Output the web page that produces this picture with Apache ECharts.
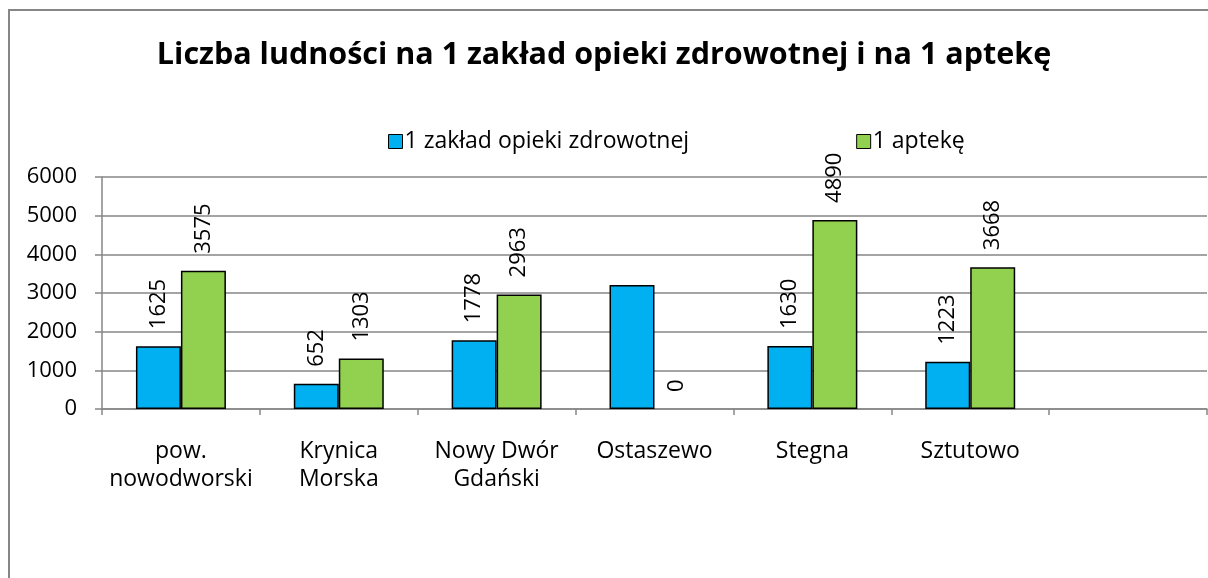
<!DOCTYPE html>
<html>
<head>
<meta charset="utf-8">
<script src="https://cdn.jsdelivr.net/npm/echarts@6/dist/echarts.min.js"></script>
<style>
  html, body { margin: 0; padding: 0; background: #fff; }
  #chart { width: 1208px; height: 578px; }
</style>
</head>
<body>
<div id="chart"></div>
<script>
const categories = ['pow.\nnowodworski', 'Krynica\nMorska', 'Nowy Dwór\nGdański', 'Ostaszewo', 'Stegna', 'Sztutowo', '']
const zakladValues = [1625, 652, 1778, 3207, 1630, 1223, null]
const aptekaValues = [3575, 1303, 2963, 0, 4890, 3668, null]
const hiddenZakladLabels = ['Ostaszewo']
const yTicks = { min: 0, max: 6000, step: 1000 }

const font = "'Open Sans', 'Noto Sans', sans-serif"

const labelStyle = {
  show: true,
  position: 'top',
  rotate: 90,
  align: 'left',
  verticalAlign: 'middle',
  distance: 17,
  color: '#000',
  fontSize: 22,
  fontFamily: font
}

const chart = echarts.init(document.getElementById('chart'), null, { renderer: 'canvas' })

chart.setOption({
  backgroundColor: '#fff',
  animation: false,
  title: {
    text: 'Liczba ludności na 1 zakład opieki zdrowotnej i na 1 aptekę',
    left: 'center',
    top: 35,
    textStyle: { fontSize: 30.5, fontWeight: 'bold', color: '#000', fontFamily: font }
  },
  legend: {
    top: 125,
    left: 383,
    itemGap: 167,
    itemWidth: 14,
    itemHeight: 14,
    textStyle: { fontSize: 23, color: '#000', fontFamily: font, padding: [0, 0, 0, -3] },
    data: [
      { name: '1 zakład opieki zdrowotnej', icon: 'rect', itemStyle: { borderColor: '#000', borderWidth: 1 } },
      { name: '1 aptekę', icon: 'rect', itemStyle: { borderColor: '#000', borderWidth: 1 } }
    ]
  },
  graphic: [{
    type: 'rect',
    shape: { x: 9, y: 10, width: 1400, height: 800 },
    style: { fill: 'none', stroke: '#868686', lineWidth: 2 },
    silent: true
  }],
  grid: { left: 102, right: 1, top: 177, bottom: 169 },
  xAxis: {
    type: 'category',
    data: categories,
    axisLine: { lineStyle: { color: '#868686', width: 1.5 } },
    axisTick: { show: true, length: 6, lineStyle: { color: '#868686', width: 1.5 } },
    axisLabel: { color: '#000', fontSize: 23, fontFamily: font, lineHeight: 28, margin: 28, interval: 0 }
  },
  yAxis: {
    type: 'value',
    min: yTicks.min,
    max: yTicks.max,
    interval: yTicks.step,
    axisLine: { show: true, lineStyle: { color: '#868686', width: 1.5 } },
    axisTick: { show: true, length: 7, lineStyle: { color: '#868686', width: 1.5 } },
    splitLine: { lineStyle: { color: '#868686', width: 1.5 } },
    axisLabel: { color: '#000', fontSize: 22, fontFamily: font, margin: 25, formatter: v => String(v) }
  },
  series: [
    {
      name: '1 zakład opieki zdrowotnej',
      type: 'bar',
      barCategoryGap: '43%',
      barGap: '0%',
      itemStyle: { color: '#00B0F0', borderColor: '#000', borderWidth: 1.5 },
      label: labelStyle,
      data: zakladValues.map((v, i) => (
        hiddenZakladLabels.includes(categories[i]) ? { value: v, label: { show: false } } : v
      ))
    },
    {
      name: '1 aptekę',
      type: 'bar',
      barCategoryGap: '43%',
      barGap: '0%',
      itemStyle: { color: '#92D050', borderColor: '#000', borderWidth: 1.5 },
      label: labelStyle,
      data: aptekaValues.map(v => (v === 0 ? { value: v, itemStyle: { borderWidth: 0 } } : v))
    }
  ]
})
</script>
</body>
</html>
